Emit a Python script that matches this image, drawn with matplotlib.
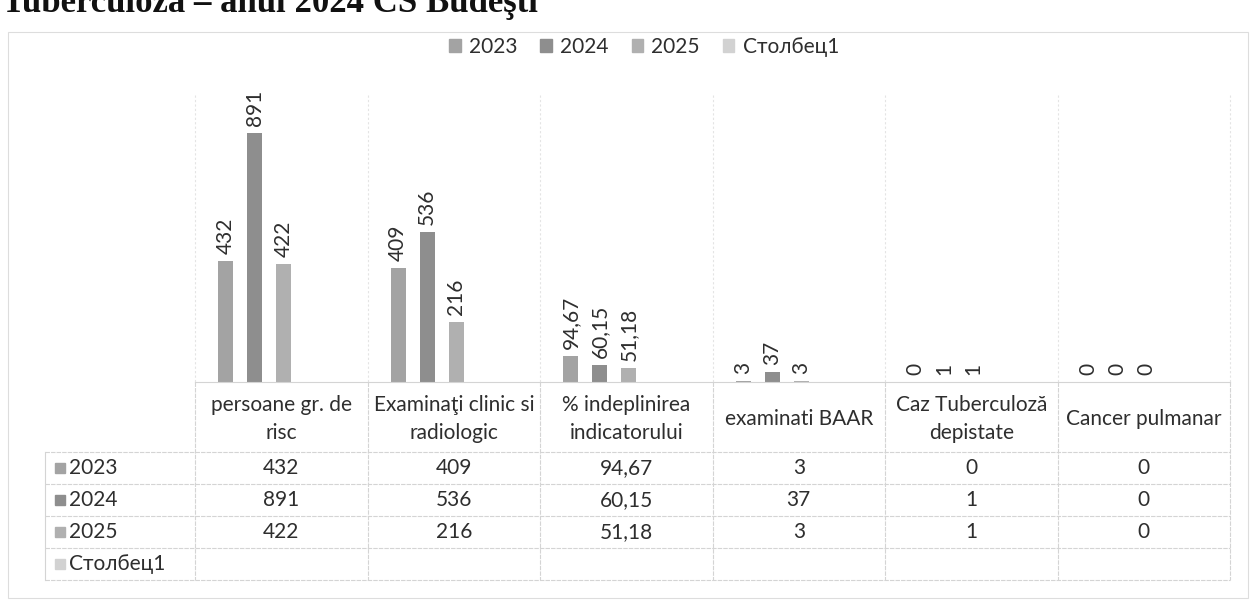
import numpy as np
import matplotlib
matplotlib.use("Agg")
import matplotlib.pyplot as plt
from matplotlib.patches import Patch
from matplotlib.transforms import blended_transform_factory

plt.rcParams["font.family"] = ["Lato", "DejaVu Sans"]

# data
categories = ["persoane gr. de\nrisc", "Examinaţi clinic si\nradiologic",
              "% indeplinirea\nindicatorului", "examinati BAAR",
              "Caz Tuberculoză\ndepistate", "Cancer pulmanar"]
series_names = ["2023", "2024", "2025", "Столбец1"]
v2023 = [432, 409, 94.67, 3, 0, 0]
v2024 = [891, 536, 60.15, 37, 1, 0]
v2025 = [422, 216, 51.18, 3, 1, 0]
vcol1 = [np.nan] * 6
series_values = [v2023, v2024, v2025, vcol1]

COLORS = ["#a3a3a3", "#8e8e8e", "#b0b0b0", "#d2d2d2"]
TXT = "#2e2e2e"
GRID = "#d4d4d4"
W, H = 1257, 600
FS = 15


def fx(px):
    return px / W


def fy(py):
    return 1 - py / H


def fmt(v):
    if np.isnan(v):
        return ""
    if float(v).is_integer():
        return f"{int(v)}"
    return f"{v:.2f}".replace(".", ",")


fig = plt.figure(figsize=(W / 100, H / 100), dpi=100)

# title, cut at the top edge as in the scan
fig.text(fx(2), fy(12), "Tuberculoza – anul 2024 CS Budeşti", family="Liberation Serif",
         fontweight="bold", fontsize=25, color="#111111", ha="left", va="baseline")

# chart border
fig.add_artist(plt.Rectangle((fx(8), fy(598)), fx(1248) - fx(8), fy(32) - fy(598),
                             transform=fig.transFigure, fill=False, ec="#dddddd", lw=0.8))

ax = fig.add_axes([fx(195), fy(382), fx(1230) - fx(195), fy(80) - fy(382)])
x = np.arange(len(categories))
slot = 0.168
bw = 0.088
for i, (name, vals) in enumerate(zip(series_names, series_values)):
    pos = x + (i - 1.5) * slot - 0.07
    vals = np.array(vals, dtype=float)
    ax.bar(pos, vals, bw, color=COLORS[i], label=name)
    for p, v in zip(pos, vals):
        if np.isnan(v):
            continue
        ax.annotate(fmt(v), (p, v), xytext=(0, 5), textcoords="offset points",
                    rotation=90, ha="center", va="bottom", fontsize=FS, color=TXT)

ax.set_xlim(-0.5, len(categories) - 0.5)
ax.set_ylim(0, 1080)
ax.set_xticks([])
ax.set_yticks([])
for s in ax.spines.values():
    s.set_visible(False)

# data table
tr = blended_transform_factory(ax.transData, fig.transFigure)
row_y = [452, 484, 516, 548, 580]
for k in range(len(categories) + 1):
    xb = k - 0.5
    ax.plot([xb, xb], [fy(95), fy(382)], transform=tr, color="#e4e4e4", lw=0.8,
            ls=(0, (2, 2)), clip_on=False)
    ax.plot([xb, xb], [fy(382), fy(580)], transform=tr, color=GRID, lw=0.8,
            ls=(0, (4, 1)), clip_on=False)
fig.add_artist(plt.Line2D([fx(195), fx(1230)], [fy(382), fy(382)],
                          transform=fig.transFigure, color=GRID, lw=0.8))
for ry in row_y:
    fig.add_artist(plt.Line2D([fx(45), fx(1230)], [fy(ry), fy(ry)],
                              transform=fig.transFigure, color=GRID, lw=0.8,
                              ls=(0, (4, 1))))
fig.add_artist(plt.Line2D([fx(45), fx(45)], [fy(452), fy(580)],
                          transform=fig.transFigure, color=GRID, lw=0.8))

for j, cat in enumerate(categories):
    ax.text(j, fy(419), cat, transform=tr, ha="center", va="center",
            fontsize=FS, color=TXT, linespacing=1.55)

for i, (name, vals) in enumerate(zip(series_names, series_values)):
    yc = fy((row_y[i] + row_y[i + 1]) / 2)
    fig.add_artist(plt.Rectangle((fx(55), yc - 5 / H), 10 / W, 10 / H,
                                 transform=fig.transFigure, color=COLORS[i]))
    fig.text(fx(69), yc, name, ha="left", va="center", fontsize=FS, color=TXT)
    for j, v in enumerate(vals):
        ax.text(j, yc, fmt(v), transform=tr, ha="center", va="center",
                fontsize=FS, color=TXT)

handles = [Patch(color=c, label=n) for c, n in zip(COLORS, series_names)]
fig.legend(handles=handles, loc="center", bbox_to_anchor=(fx(644), fy(47)), ncol=4,
           frameon=False, fontsize=15, handlelength=0.55, handleheight=0.55,
           handletextpad=0.4, columnspacing=1.1, labelcolor=TXT)

fig.savefig("out.png", dpi=100)
